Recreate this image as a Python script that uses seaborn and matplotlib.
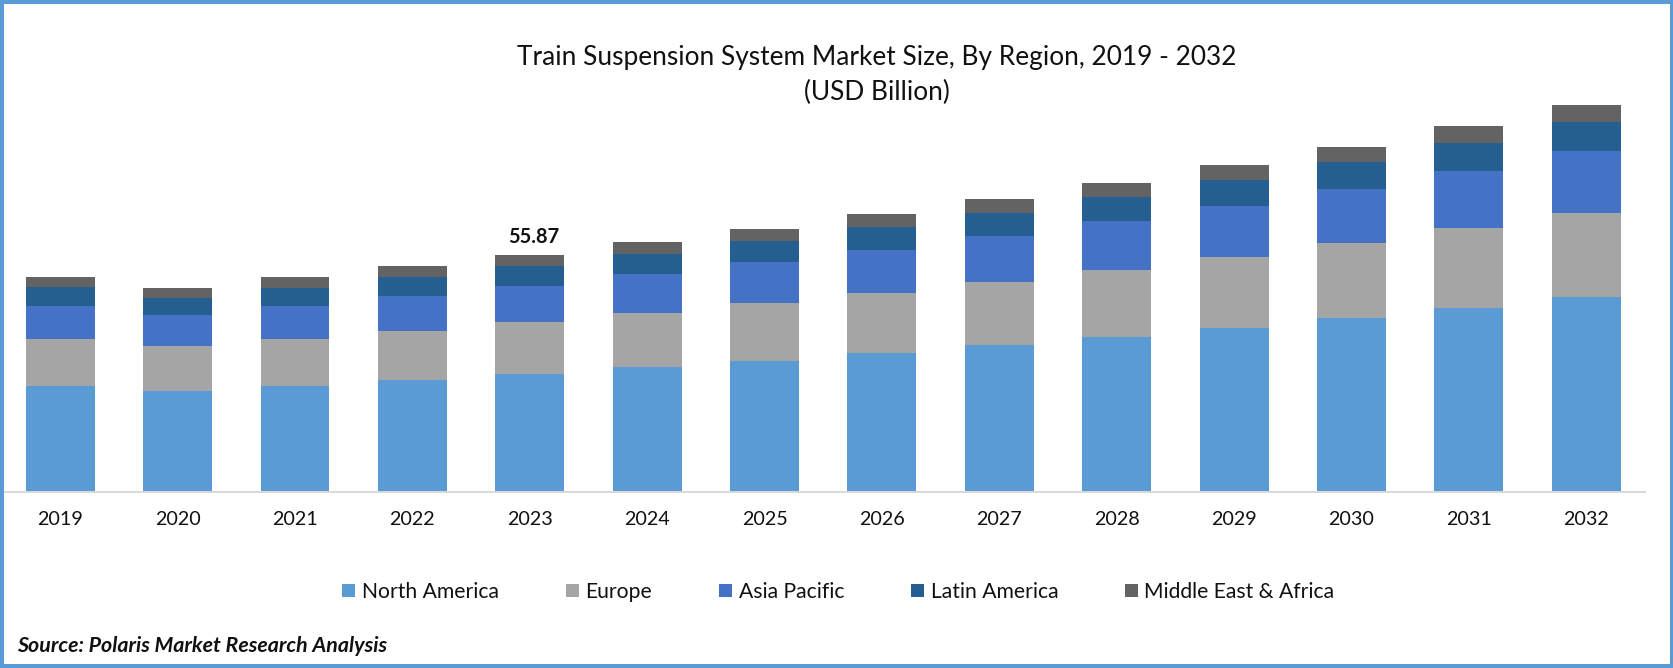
#!/usr/bin/env python
# Train suspension system market size by region, stacked bars

import numpy as np
import matplotlib
matplotlib.use("Agg")
import matplotlib.pyplot as plt
from matplotlib.patches import Rectangle
import seaborn as sns

years = ["2019", "2020", "2021", "2022", "2023", "2024", "2025",
         "2026", "2027", "2028", "2029", "2030", "2031", "2032"]

north_america = [24.85, 23.67, 24.85, 26.27, 27.67, 29.35, 30.77, 32.66, 34.56, 36.45, 38.58, 40.95, 43.32, 45.92]
europe = [11.12, 10.65, 11.12, 11.60, 12.31, 12.78, 13.73, 14.20, 14.91, 15.86, 16.81, 17.75, 18.94, 19.88]
asia_pacific = [7.81, 7.34, 7.81, 8.28, 8.52, 9.23, 9.70, 10.18, 10.89, 11.60, 12.07, 12.78, 13.49, 14.68]
latin_america = [4.50, 4.02, 4.26, 4.50, 4.77, 4.73, 4.97, 5.44, 5.44, 5.68, 6.15, 6.39, 6.63, 6.94]
middle_east = [2.37, 2.37, 2.60, 2.60, 2.60, 2.84, 2.84, 3.08, 3.31, 3.31, 3.55, 3.55, 4.02, 3.95]

regions = ["North America", "Europe", "Asia Pacific", "Latin America", "Middle East & Africa"]
colors = ["#5B9BD5", "#A5A5A5", "#4472C4", "#255E91", "#636363"]
series = [north_america, europe, asia_pacific, latin_america, middle_east]

W, H = 1674, 668

sns.set_style("white")
plt.rcParams["font.family"] = ["Lato", "DejaVu Sans"]

fig = plt.figure(figsize=(W / 100, H / 100), dpi=100, facecolor="white")
ax = fig.add_axes([1.5 / W, 1 - 491 / H, (1645 - 1.5) / W, (491 - 60) / H])

bottom = np.zeros(len(years))
for name, values, color in zip(regions, series, colors):
    sns.barplot(x=years, y=values, bottom=bottom, color=color, saturation=1,
                width=0.587, linewidth=0, errorbar=None, label=name, legend=False, ax=ax)
    bottom = bottom + np.array(values)

ax.set_xlim(-0.5, 13.5)
ax.set_ylim(0, 102)
ax.set_yticks([])
ax.set_ylabel("")
sns.despine(ax=ax, left=True)
ax.spines["bottom"].set_position(("outward", 0.72))
ax.spines["bottom"].set_color("#D9D9D9")
ax.spines["bottom"].set_linewidth(1.44)
ax.tick_params(axis="x", length=0, pad=14, labelsize=14.2, labelcolor="#111111")

# only 2023 carries a label
ax.annotate("55.87", xy=(4, bottom[4]), xytext=(2.5, 13.2), textcoords="offset points",
            ha="center", va="center", fontsize=14.4, fontweight="bold", color="#111111")

fig.text(876.5 / W, 1 - 57 / H, "Train Suspension System Market Size, By Region, 2019 - 2032",
         ha="center", va="center", fontsize=18.9, color="#111111")
fig.text(876.5 / W, 1 - 92 / H, "(USD Billion)", ha="center", va="center", fontsize=18.9, color="#111111")

handles, labels = ax.get_legend_handles_labels()
fig.legend(handles, labels, loc="center", bbox_to_anchor=(838.5 / W, 1 - 592 / H), ncol=5,
           frameon=False, fontsize=15.2, labelcolor="#111111", handlelength=0.62, handleheight=0.62,
           handletextpad=0.32, columnspacing=3.15)

fig.text(17 / W, 1 - 646 / H, "Source: Polaris Market Research Analysis", ha="left", va="center",
         fontsize=15.4, fontweight="bold", fontstyle="italic", color="#111111")

# blue frame round the picture
fig.add_artist(Rectangle((2 / W, 2 / H), (W - 4) / W, (H - 4) / H, transform=fig.transFigure,
                         fill=False, edgecolor="#5B9BD5", linewidth=2.9))

fig.savefig("out.png", dpi=100)
